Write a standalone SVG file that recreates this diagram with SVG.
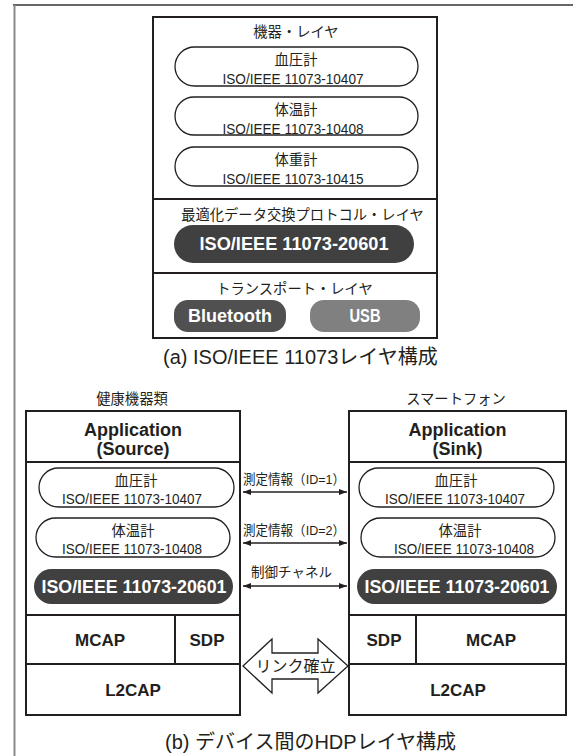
<svg xmlns="http://www.w3.org/2000/svg" width="573" height="756" viewBox="0 0 573 756">
<defs>
<style>
text{font-family:"Liberation Sans","Noto Sans CJK JP",sans-serif;fill:#231f20;text-anchor:middle;dominant-baseline:central}
.box{fill:#fff;stroke:#231f20;stroke-width:2}
.div{stroke:#231f20;stroke-width:2;fill:none}
.pill{fill:#fff;stroke:#231f20;stroke-width:1.3}
.dark{fill:#404040}
.bt{fill:#505050}
.usb{fill:#808080}
.w{fill:#fff;font-weight:bold}
.bd{font-weight:bold}
.s14{font-size:14.3px}
.s15{font-size:15px}
.cap{font-size:20px;text-anchor:start}
.lbl{font-size:13.5px}
.arr{stroke:#231f20;stroke-width:1.5;fill:none;marker-end:url(#ah);marker-start:url(#ah)}
</style>
<marker id="ah" markerUnits="userSpaceOnUse" markerWidth="9" markerHeight="7" refX="8" refY="3" orient="auto-start-reverse">
<path d="M0,0 L8,3 L0,6 z" fill="#231f20"/>
</marker>
</defs>
<rect width="573" height="756" fill="#fff"/>
<g id="frame">
<line x1="13" y1="5" x2="573" y2="5" stroke="#333" stroke-width="1.5"/>
<line x1="14.5" y1="5" x2="14.5" y2="756" stroke="#8a8a8a" stroke-width="2"/>
</g>

<g id="stack-a">
<rect class="box" x="153" y="17" width="284" height="321"/>
<line class="div" x1="153" y1="199" x2="437" y2="199"/>
<line class="div" x1="153" y1="273" x2="437" y2="273"/>
</g>
<g id="device-layer">
<text class="s14" x="296" y="32">機器・レイヤ</text>
</g>
<g id="a-bp">
<rect class="pill" x="175" y="47" width="243" height="39" rx="19.5"/>
<text class="s14" x="296" y="60">血圧計</text>
<text class="s15" x="293" y="78" textLength="141" lengthAdjust="spacingAndGlyphs">ISO/IEEE 11073-10407</text>
</g>
<g id="a-temp">
<rect class="pill" x="175" y="97" width="243" height="38" rx="19"/>
<text class="s14" x="296" y="110">体温計</text>
<text class="s15" x="293" y="128" textLength="141" lengthAdjust="spacingAndGlyphs">ISO/IEEE 11073-10408</text>
</g>
<g id="a-weight">
<rect class="pill" x="175" y="147" width="243" height="39" rx="19.5"/>
<text class="s14" x="296" y="160">体重計</text>
<text class="s15" x="293" y="178" textLength="141" lengthAdjust="spacingAndGlyphs">ISO/IEEE 11073-10415</text>
</g>
<g id="a-protocol">
<text class="s14" x="302.5" y="215">最適化データ交換プロトコル・レイヤ</text>
<rect class="dark" x="174" y="225" width="240" height="38" rx="19"/>
<text class="w" x="294" y="244" font-size="18" textLength="189" lengthAdjust="spacingAndGlyphs">ISO/IEEE 11073-20601</text>
</g>
<g id="a-transport">
<text class="s14" x="294.5" y="289">トランスポート・レイヤ</text>
</g>
<g id="a-bluetooth">
<rect class="bt" x="174" y="300" width="112" height="32" rx="14"/>
<text class="w" x="230" y="316" font-size="18" textLength="84" lengthAdjust="spacingAndGlyphs">Bluetooth</text>
</g>
<g id="a-usb">
<rect class="usb" x="310" y="300" width="110" height="32" rx="14"/>
<text class="w" x="365" y="316" font-size="18" textLength="31" lengthAdjust="spacingAndGlyphs">USB</text>
</g>
<text class="cap" x="163" y="357">(a) ISO/IEEE 11073レイヤ構成</text>

<text class="s14" x="132" y="399">健康機器類</text>
<text class="s14" x="456" y="399">スマートフォン</text>

<g id="source-stack">
<rect class="box" x="26" y="411" width="214" height="304"/>
<line class="div" x1="26" y1="462" x2="240" y2="462"/>
<line class="div" x1="26" y1="615" x2="240" y2="615"/>
<line class="div" x1="26" y1="664" x2="240" y2="664"/>
<line class="div" x1="175" y1="615" x2="175" y2="664"/>
<text class="bd" x="133" y="430" font-size="18">Application</text>
<text class="bd" x="133" y="449" font-size="18">(Source)</text>
<text class="bd" x="100" y="640" font-size="17">MCAP</text>
<text class="bd" x="207" y="640" font-size="17">SDP</text>
<text class="bd" x="133" y="690" font-size="17">L2CAP</text>
</g>
<g id="src-bp">
<rect class="pill" x="39" y="468" width="195" height="39" rx="19.5"/>
<text class="s14" x="136" y="480.5">血圧計</text>
<text class="s15" x="132" y="498" textLength="140" lengthAdjust="spacingAndGlyphs">ISO/IEEE 11073-10407</text>
</g>
<g id="src-temp">
<rect class="pill" x="36" y="518" width="194" height="39" rx="19.5"/>
<text class="s14" x="133" y="531">体温計</text>
<text class="s15" x="132" y="548" textLength="140" lengthAdjust="spacingAndGlyphs">ISO/IEEE 11073-10408</text>
</g>
<g id="src-20601">
<rect class="dark" x="34" y="569" width="199" height="35" rx="17.5"/>
<text class="w" x="134" y="586.5" font-size="18" textLength="185" lengthAdjust="spacingAndGlyphs">ISO/IEEE 11073-20601</text>
</g>

<g id="sink-stack">
<rect class="box" x="349" y="411" width="217" height="304"/>
<line class="div" x1="349" y1="462" x2="566" y2="462"/>
<line class="div" x1="349" y1="615" x2="566" y2="615"/>
<line class="div" x1="349" y1="664" x2="566" y2="664"/>
<line class="div" x1="416" y1="615" x2="416" y2="664"/>
<text class="bd" x="457.5" y="430" font-size="18">Application</text>
<text class="bd" x="457.5" y="449" font-size="18">(Sink)</text>
<text class="bd" x="384" y="640" font-size="17">SDP</text>
<text class="bd" x="491" y="640" font-size="17">MCAP</text>
<text class="bd" x="458" y="690" font-size="17">L2CAP</text>
</g>
<g id="sink-bp">
<rect class="pill" x="359" y="468" width="195" height="39" rx="19.5"/>
<text class="s14" x="456" y="480.5">血圧計</text>
<text class="s15" x="455" y="498" textLength="140" lengthAdjust="spacingAndGlyphs">ISO/IEEE 11073-10407</text>
</g>
<g id="sink-temp">
<rect class="pill" x="361" y="518" width="194" height="39" rx="19.5"/>
<text class="s14" x="460" y="531">体温計</text>
<text class="s15" x="464" y="548" textLength="140" lengthAdjust="spacingAndGlyphs">ISO/IEEE 11073-10408</text>
</g>
<g id="sink-20601">
<rect class="dark" x="357" y="569" width="200" height="35" rx="17.5"/>
<text class="w" x="457" y="586.5" font-size="18" textLength="185" lengthAdjust="spacingAndGlyphs">ISO/IEEE 11073-20601</text>
</g>

<g id="connectors">
<line class="arr" x1="243" y1="492" x2="347" y2="492"/>
<text class="lbl" x="294" y="479" textLength="102" lengthAdjust="spacingAndGlyphs">測定情報（ID=1）</text>
<line class="arr" x1="243" y1="543" x2="347" y2="543"/>
<text class="lbl" x="294" y="530" textLength="102" lengthAdjust="spacingAndGlyphs">測定情報（ID=2）</text>
<line class="arr" x1="243" y1="586" x2="347" y2="586"/>
<text class="lbl" x="291.5" y="572.5">制御チャネル</text>
<polygon points="243,666 272,639 272,653 318,653 318,639 348,666 318,693 318,679 272,679 272,693" fill="#fff" stroke="#231f20" stroke-width="1.3" stroke-linejoin="miter"/>
<text x="295.5" y="666" font-size="16">リンク確立</text>
</g>

<text class="cap" x="165" y="742">(b) デバイス間のHDPレイヤ構成</text>
</svg>
